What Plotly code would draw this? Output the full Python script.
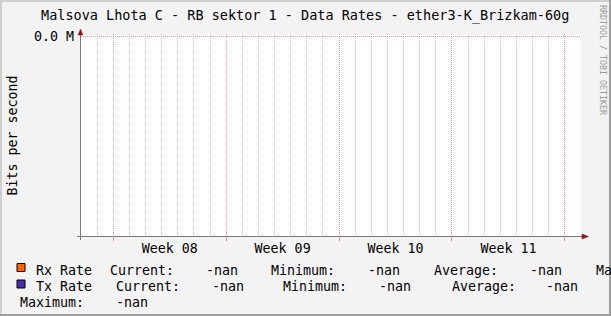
import plotly.graph_objects as go

W, H = 611, 316
PL, PR, PT, PB = 81, 581, 34, 237  # plot area in pixels

title = "Malsova Lhota C - RB sektor 1 - Data Rates - ether3-K_Brizkam-60g"
y_title = "Bits per second"
watermark = "RRDTOOL / TOBI OETIKER"

# time axis in days from graph start
sample_days = [0, 1, 2, 3, 4, 5, 6, 7, 8, 9, 10, 11, 12, 13, 14, 15,
               16, 17, 18, 19, 20, 21, 22, 23, 24, 25, 26, 27, 28, 29, 30, 31]
x_range = [0, 31]
week_starts = [2, 9, 16, 23, 30]
week_label_pos = [5.5, 12.5, 19.5, 26.5]
week_labels = ["Week 08", "Week 09", "Week 10", "Week 11"]
day_lines = [d for d in sample_days if d not in week_starts and 0 < d < 31]

# series (no data collected -> nan)
nan = float("nan")
rx_rate = [nan] * len(sample_days)
tx_rate = [nan] * len(sample_days)

y_range = [-1, 0.01]
y_tickvals = [0]
y_ticktext = ["0.0 M"]

series_names = ["Rx Rate", "Tx Rate"]
series_colors = ["#FF6600", "#4B2AA8"]
stat_text = "-nan"

FONT = "DejaVu Sans Mono"
FS = 13.3


def px(x):
    return (x - PL) / (PR - PL)


def py(y):
    return (PB - y) / (PB - PT)


fig = go.Figure()
fig.add_trace(go.Scatter(x=sample_days, y=rx_rate, mode="lines", name=series_names[0],
                         line=dict(color=series_colors[0]), showlegend=False))
fig.add_trace(go.Scatter(x=sample_days, y=tx_rate, mode="lines", name=series_names[1],
                         line=dict(color=series_colors[1]), showlegend=False))
fig.add_trace(go.Scatter(x=sample_days, y=rx_rate, mode="lines", xaxis="x2",
                         showlegend=False, hoverinfo="skip"))

GRID_GRAY = "#c4c4c4"
GRID_RED = "#f49a9a"

fig.update_layout(
    width=W, height=H,
    margin=dict(l=PL, r=W - PR, t=PT, b=H - PB, pad=0),
    paper_bgcolor="#F3F3F3",
    plot_bgcolor="#FFFFFF",
    font=dict(family=FONT, size=FS, color="#000000"),
    showlegend=False,
    xaxis=dict(
        range=x_range, showgrid=False, zeroline=False, showline=False,
        tickmode="array", tickvals=week_label_pos, ticktext=week_labels,
        ticks="", ticklabelstandoff=2,
        tickfont=dict(family=FONT, size=FS, color="#000000"),
        minor=dict(tickmode="array", tickvals=day_lines, showgrid=True,
                   gridcolor=GRID_GRAY, griddash="1px,1px", gridwidth=1,
                   ticks="", ticklen=2, tickcolor="#b0b0b0"),
        fixedrange=True,
    ),
    xaxis2=dict(
        range=x_range, overlaying="x", anchor="y", side="bottom",
        tickmode="array", tickvals=week_starts, showticklabels=False,
        showgrid=True, gridcolor=GRID_RED, griddash="1px,1px", gridwidth=1,
        zeroline=False, showline=False, ticks="outside", ticklen=3,
        tickcolor="#f08080", fixedrange=True,
    ),
    yaxis=dict(
        range=y_range, tickmode="array", tickvals=y_tickvals, ticktext=y_ticktext,
        showgrid=True, gridcolor=GRID_RED, griddash="1px,1px", gridwidth=1,
        zeroline=False, showline=False, ticks="", ticklabelstandoff=6,
        tickfont=dict(family=FONT, size=FS, color="#000000"),
        fixedrange=True,
    ),
)

shapes = []
# frame shading
shapes.append(dict(type="rect", xref="paper", yref="paper", x0=px(0), x1=px(2), y0=py(0), y1=py(H),
                   fillcolor="#CFCFCF", line=dict(width=0), layer="above"))
shapes.append(dict(type="rect", xref="paper", yref="paper", x0=px(0), x1=px(W), y0=py(0), y1=py(2),
                   fillcolor="#CFCFCF", line=dict(width=0), layer="above"))
shapes.append(dict(type="rect", xref="paper", yref="paper", x0=px(W - 2), x1=px(W), y0=py(0), y1=py(H),
                   fillcolor="#9E9E9E", line=dict(width=0), layer="above"))
shapes.append(dict(type="rect", xref="paper", yref="paper", x0=px(0), x1=px(W), y0=py(H - 2), y1=py(H),
                   fillcolor="#9E9E9E", line=dict(width=0), layer="above"))
# axes
AX = "#7a7a7a"
shapes.append(dict(type="line", xref="paper", yref="paper", x0=px(77), x1=px(584), y0=py(236.5), y1=py(236.5),
                   line=dict(color=AX, width=1), layer="above"))
shapes.append(dict(type="line", xref="paper", yref="paper", x0=px(80.5), x1=px(80.5), y0=py(240), y1=py(33),
                   line=dict(color=AX, width=1), layer="above"))
ARW = "#8B1A1A"
shapes.append(dict(type="path", xref="paper", yref="paper",
                   path=f"M {px(78)} {py(35)} L {px(83)} {py(35)} L {px(80.5)} {py(29)} Z",
                   fillcolor=ARW, line=dict(color=ARW, width=0.5), layer="above"))
shapes.append(dict(type="path", xref="paper", yref="paper",
                   path=f"M {px(582)} {py(234)} L {px(582)} {py(239)} L {px(588.5)} {py(236.5)} Z",
                   fillcolor=ARW, line=dict(color=ARW, width=0.5), layer="above"))
# legend swatches
for i, c in enumerate(series_colors):
    y0 = 263.5 + i * 16.5
    shapes.append(dict(type="rect", xref="paper", yref="paper", x0=px(17), x1=px(25),
                       y0=py(y0), y1=py(y0 + 8), fillcolor=c,
                       line=dict(color="#000000", width=1), layer="above"))
fig.update_layout(shapes=shapes)

ann = []


def text(s, x, y, xanchor="left", size=FS, color="#000000", angle=0):
    ann.append(dict(text=s, x=px(x), y=py(y), xref="paper", yref="paper",
                    xanchor=xanchor, yanchor="middle", showarrow=False,
                    textangle=angle, font=dict(family=FONT, size=size, color=color)))


text(title, 305, 15, xanchor="center", size=13.5)
text(y_title, 11.5, 136, xanchor="center", angle=-90)
text(watermark, 603, 60, xanchor="center", size=8.3, color="#9a9a9a", angle=90)

rows = [
    (270, [(series_names[0], 33.5), ("Current:", 107.5), (stat_text, 204), ("Minimum:", 269),
           (stat_text, 365.5), ("Average:", 432), (stat_text, 527.5), ("Maximum:", 593.5)]),
    (286.5, [(series_names[1], 33.5), ("Current:", 113.8), (stat_text, 209.5), ("Minimum:", 281),
             (stat_text, 376.5), ("Average:", 450), (stat_text, 544)]),
    (302.5, [("Maximum:", 18), (stat_text, 113.5)]),
]
for yy, items in rows:
    for s, xx in items:
        text(s, xx, yy)

fig.update_layout(annotations=ann)
fig.write_html("out.html")
